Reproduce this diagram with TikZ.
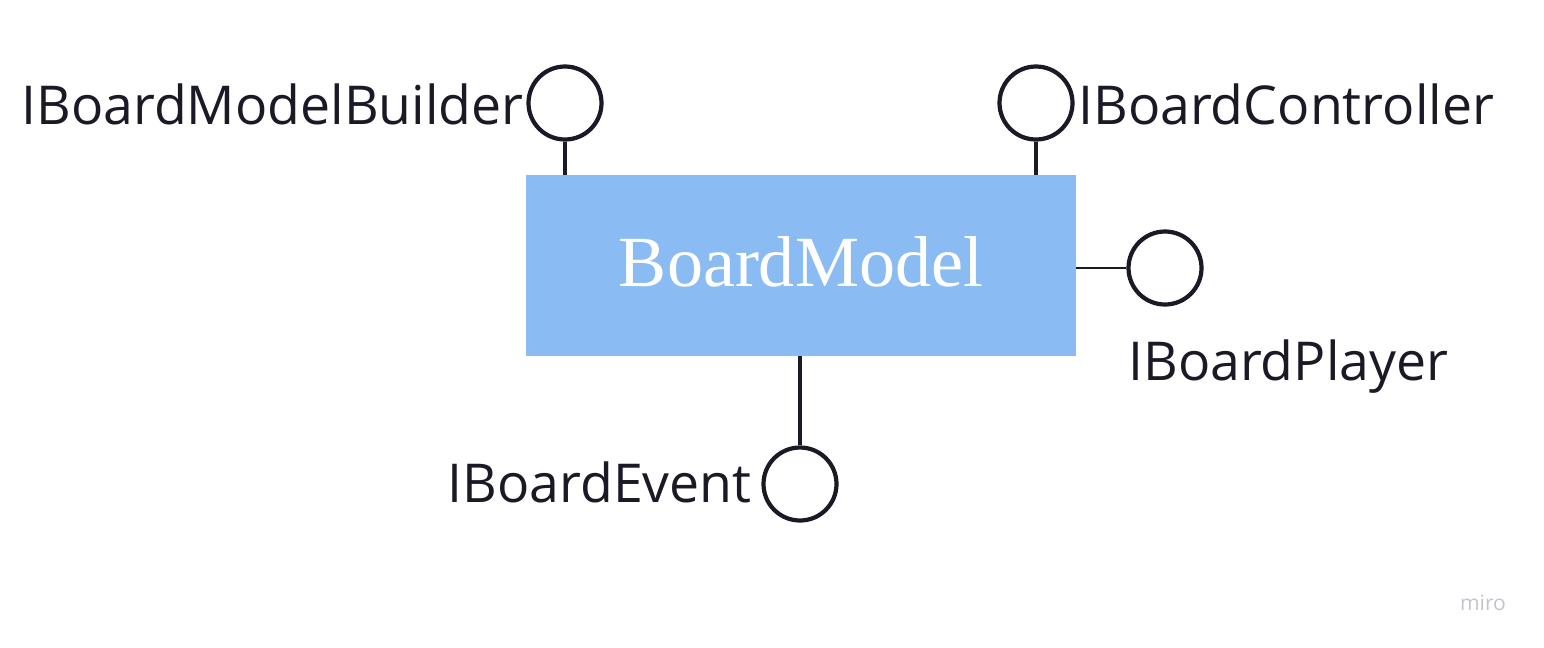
\documentclass[tikz,border=0pt]{standalone}
\usepackage{fontspec}
\setmainfont{Open Sans}
\newfontfamily\serifbox{Liberation Serif}
\definecolor{boxblue}{HTML}{8BBBF3}
\definecolor{ink}{HTML}{1A1A26}
\definecolor{mirogray}{HTML}{C4C4CC}
\begin{document}
\begin{tikzpicture}[x=0.02cm,y=-0.02cm,
  iface/.style={circle,draw=ink,line width=2.4pt,minimum size=73*0.02cm,inner sep=0pt},
  lbl/.style={font=\fontsize{30.5}{36}\selectfont,text=ink,inner sep=0pt},
  stem/.style={draw=ink,line width=2.1pt},
  thinstem/.style={draw=ink,line width=0.8pt}]
\useasboundingbox (0,0) rectangle (1544,647);
\node[fill=boxblue,minimum width=550*0.02cm,minimum height=181*0.02cm,inner sep=0pt] (bm) at (801,265.5) {};
\node[text=white,font=\serifbox\fontsize{41}{48}\selectfont,inner sep=0pt,anchor=base] (bmt) at (801,286) {BoardModel};
\node[iface] (c1) at (565,103) {};
\node[iface] (c2) at (1036,103) {};
\node[iface] (c3) at (1165,268) {};
\node[iface] (c4) at (800,484) {};
\coordinate (t1) at (565,175);
\coordinate (t2) at (1036,175);
\coordinate (t3) at (1076,268);
\coordinate (t4) at (800,356);
\draw[stem] (c1.south) -- (t1);
\draw[stem] (c2.south) -- (t2);
\draw[thinstem] (t3) -- (c3.west);
\draw[stem] (t4) -- (c4.north);
\node[lbl,anchor=base east] (l1) at (524,124) {IBoardModelBuilder};
\node[lbl,anchor=base west] (l2) at (1078,124) {IBoardController};
\node[lbl,anchor=base west] (l3) at (1128,380) {IBoardPlayer};
\node[lbl,anchor=base east] (l4) at (752,502) {IBoardEvent};
\node[font=\fontsize{12}{14}\selectfont,text=mirogray,inner sep=0pt,anchor=base] (miro) at (1483,610) {miro};
\end{tikzpicture}
\end{document}
